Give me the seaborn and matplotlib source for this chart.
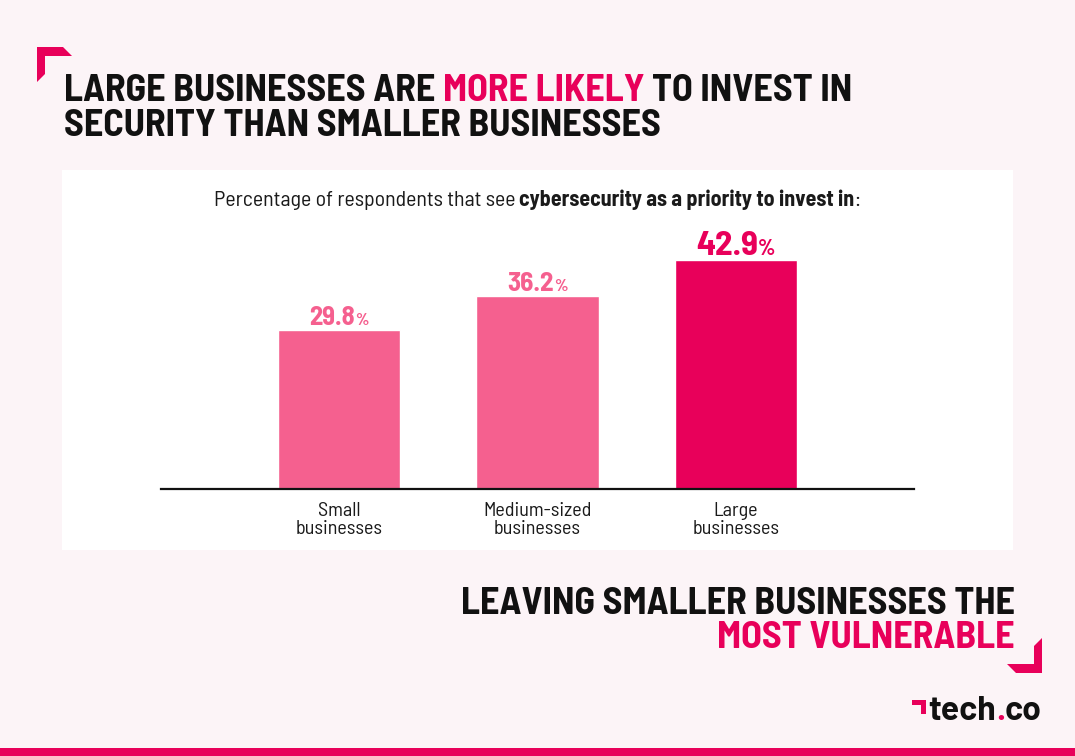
import matplotlib
matplotlib.use("Agg")
import matplotlib.pyplot as plt
import seaborn as sns
import pandas as pd
from matplotlib import font_manager
from matplotlib.patches import Rectangle, Polygon
from matplotlib.transforms import IdentityTransform

# data
categories = ["Small\nbusinesses", "Medium-sized\nbusinesses", "Large\nbusinesses"]
values = [29.8, 36.2, 42.9]
bar_colors = ["#F5608F", "#F5608F", "#E8005A"]

PINK = "#E8005A"
BG = "#FCF4F7"
W, H = 1075, 756

names = {f.name for f in font_manager.fontManager.ttflist}
FONT = next(n for n in ["Barlow Semi Condensed", "Barlow", "Roboto", "DejaVu Sans"] if n in names)
LOGO = next(n for n in ["Barlow", "Roboto", "DejaVu Sans"] if n in names)

sns.set_theme(style="white")
plt.rcParams["font.family"] = [FONT, "DejaVu Sans"]

fig = plt.figure(figsize=(W / 100, H / 100), dpi=100, facecolor=BG)
renderer = fig.canvas.get_renderer()
px = IdentityTransform()

# white panel behind the chart
fig.patches.append(Rectangle((62, H - 550), 951, 380, transform=px,
                             facecolor="white", edgecolor="none", zorder=-5))

df = pd.DataFrame({"cat": categories, "val": values})
ax = fig.add_axes([161 / W, 1 - 489 / H, (914 - 161) / W, (489 - 200) / H])
ax.set_zorder(2)
ax.set_facecolor("none")
sns.barplot(data=df, x="cat", y="val", hue="cat", palette=bar_colors,
            width=0.615, legend=False, ax=ax, saturation=1)
ax.set_xlim(-0.897, 2.897)
ax.set_ylim(0, 54.1)
ax.set_yticks([])
ax.set_xlabel("")
ax.set_ylabel("")
for s in ["top", "left", "right"]:
    ax.spines[s].set_visible(False)
ax.spines["bottom"].set_color("#111111")
ax.spines["bottom"].set_linewidth(1.6)
ax.tick_params(axis="x", length=0, pad=9, labelsize=14.5, labelcolor="#1a1a1a")
for lab in ax.get_xticklabels():
    lab.set_linespacing(1.05)


def rich(x, y, parts, ha="left", fit=None):
    # draws pieces side by side on one baseline; fit scales sizes to a pixel width
    arts = [fig.text(0, 0, s, transform=px, va="baseline", ha="left", **kw) for s, kw in parts]

    def measure():
        ws = []
        for t, (s, kw) in zip(arts, parts):
            if s.strip() == "":
                a = fig.text(0, 0, "xx", transform=px, fontproperties=t.get_fontproperties())
                b = fig.text(0, 0, "x" + s + "x", transform=px, fontproperties=t.get_fontproperties())
                ws.append(b.get_window_extent(renderer).width - a.get_window_extent(renderer).width)
                a.remove(); b.remove()
            else:
                ws.append(t.get_window_extent(renderer).width)
        return ws

    widths = measure()
    if fit:
        k = fit / sum(widths)
        for t in arts:
            t.set_fontsize(t.get_fontsize() * k)
        widths = measure()
    total = sum(widths)
    x0 = x if ha == "left" else (x - total if ha == "right" else x - total / 2)
    for t, w in zip(arts, widths):
        t.set_position((x0, y))
        x0 += w
    return arts


tk = dict(weight="bold", fontsize=26)
arts = rich(64, H - 101, [("LARGE BUSINESSES ARE", dict(color="#111111", **tk)), (" ", tk),
                          ("MORE LIKELY", dict(color=PINK, **tk)), (" ", tk),
                          ("TO INVEST IN", dict(color="#111111", **tk))], fit=788)
tsize = arts[0].get_fontsize()
tk = dict(weight="bold", fontsize=tsize)
rich(64, H - 136, [("SECURITY THAN SMALLER BUSINESSES", dict(color="#111111", **tk))])

sk = dict(fontsize=13, color="#1a1a1a")
rich(537, H - 206, [("Percentage of respondents that see", sk), (" ", sk),
                    ("cybersecurity as a priority to invest in", dict(weight="bold", **sk)),
                    (":", sk)], ha="center", fit=650)

# value labels above bars
label_w = [59, 60, 79]
for i, v in enumerate(values):
    xp, yp = ax.transData.transform((i, v))
    c = bar_colors[i]
    rich(xp, yp + 5, [(f"{v:.1f}", dict(weight="bold", fontsize=16, color=c)),
                      ("%", dict(weight="bold", fontsize=10, color=c))],
         ha="center", fit=label_w[i])

rich(1015, H - 614, [("LEAVING SMALLER BUSINESSES THE", dict(color="#111111", **tk))], ha="right")
rich(1015, H - 648, [("MOST VULNERABLE", dict(color=PINK, **tk))], ha="right")

# corner brackets
tl = [(37, 47), (63, 47), (72, 56), (45, 56), (45, 74), (37, 82)]
br = [(1042, 673), (1016, 673), (1007, 664), (1034, 664), (1034, 646), (1042, 638)]
for pts in (tl, br):
    fig.patches.append(Polygon([(x, H - y) for x, y in pts], closed=True, transform=px,
                               facecolor=PINK, edgecolor="none"))

# logo
mark = [(912, 700), (926, 700), (926, 714), (921, 714), (921, 705), (912, 705)]
fig.patches.append(Polygon([(x, H - y) for x, y in mark], closed=True, transform=px,
                           facecolor=PINK, edgecolor="none"))
lk = dict(family=[LOGO, "DejaVu Sans"], weight="bold", fontsize=20)
rich(1042, H - 720, [("tech", dict(color="#111111", **lk)), (".", dict(color=PINK, **lk)),
                     ("co", dict(color="#111111", **lk))], ha="right", fit=114)

# bottom stripe
fig.patches.append(Rectangle((0, 0), W, 8, transform=px, facecolor=PINK, edgecolor="none"))

fig.savefig("out.png", dpi=100, facecolor=BG)
